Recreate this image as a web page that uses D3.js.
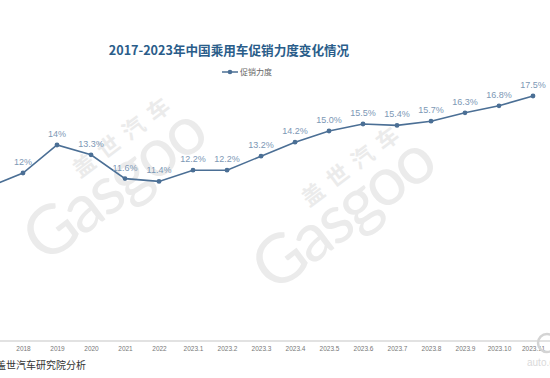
<!DOCTYPE html>
<html>
<head>
<meta charset="utf-8">
<script src="https://cdn.jsdelivr.net/npm/d3@7"></script>
<style>
  body { margin: 0; background: #fff; }
  svg { display: block; font-family: "Noto Sans CJK SC", "Noto Sans", sans-serif; }
</style>
</head>
<body>
<div id="chart"></div>
<script>
// Categories (2017 sits just off the left edge in the reference crop)
const categories = ["2017", "2018", "2019", "2020", "2021", "2022",
  "2023.1", "2023.2", "2023.3", "2023.4", "2023.5", "2023.6",
  "2023.7", "2023.8", "2023.9", "2023.10", "2023.11"];
const values = [11.0, 12, 14, 13.3, 11.6, 11.4, 12.2, 12.2, 13.2, 14.2,
  15.0, 15.5, 15.4, 15.7, 16.3, 16.8, 17.5];
const labels = ["11%", "12%", "14%", "13.3%", "11.6%", "11.4%", "12.2%", "12.2%",
  "13.2%", "14.2%", "15.0%", "15.5%", "15.4%", "15.7%", "16.3%", "16.8%", "17.5%"];
const seriesName = "促销力度";
const title = "2017-2023年中国乘用车促销力度变化情况";
const source = "盖世汽车研究院分析";

const width = 550, height = 378;
const axisY = 341;

const svg = d3.select("#chart").append("svg")
    .attr("width", width)
    .attr("height", height);

// Scales
const x = d3.scalePoint().domain(categories).range([-11, 533]);
const y = d3.scaleLinear().domain([0, 20]).range([axisY, 61]);

// rows; only points whose x lands inside the frame get text
const rows = categories.map((c, i) => ({cat: c, value: values[i], label: labels[i]}));
const shown = rows.filter(d => x(d.cat) > 0);

// Watermarks
function watermark(ox, oy) {
  const g = svg.append("g")
      .attr("transform", `translate(${ox},${oy}) rotate(-37)`)
      .attr("fill", "#ebebeb");
  g.append("text")
      .attr("x", 0).attr("y", 0)
      .attr("font-family", "Lato, 'Open Sans', sans-serif")
      .attr("font-size", 68)
      .attr("letter-spacing", -3)
      .text("Gasgoo");
  g.append("text")
      .attr("x", 80).attr("y", -48)
      .attr("font-size", 22)
      .attr("font-weight", "bold")
      .attr("letter-spacing", 9)
      .text("盖世汽车");
}
watermark(45, 265);
watermark(274, 294);

// Title
svg.append("text")
    .attr("x", 229).attr("y", 55)
    .attr("text-anchor", "middle")
    .attr("font-size", 12.6)
    .attr("font-weight", "bold")
    .attr("fill", "#2a5d8a")
    .text(title);

// Legend
const legend = svg.append("g").attr("transform", "translate(222,72)");
legend.append("line").attr("x1", 0).attr("x2", 16)
    .attr("stroke", "#4b6f95").attr("stroke-width", 1.5);
legend.append("circle").attr("cx", 8).attr("r", 2.3).attr("fill", "#4b6f95");
legend.append("text").attr("x", 18).attr("y", 3)
    .attr("font-size", 8).attr("fill", "#666")
    .text(seriesName);

// X axis
const xAxis = svg.append("g")
    .attr("transform", `translate(0,${axisY})`)
    .call(d3.axisBottom(x).tickSize(0).tickPadding(5)
      .tickValues(shown.map(d => d.cat)));
xAxis.select(".domain").remove();
xAxis.append("line")
    .attr("x1", 0).attr("x2", width)
    .attr("stroke", "#d9d9d9").attr("stroke-width", 1.5);
xAxis.selectAll("text")
    .attr("font-size", 6.5)
    .attr("fill", "#777")
    .attr("font-family", "'Liberation Sans', Arial, sans-serif");

// Line
const line = d3.line()
    .x(d => x(d.cat))
    .y(d => y(d.value));

svg.append("path")
    .datum(rows)
    .attr("fill", "none")
    .attr("stroke", "#4b6f95")
    .attr("stroke-width", 1.6)
    .attr("d", line);

svg.selectAll(".dot")
    .data(rows)
  .enter().append("circle")
    .attr("class", "dot")
    .attr("cx", d => x(d.cat))
    .attr("cy", d => y(d.value))
    .attr("r", 2.4)
    .attr("fill", "#4b6f95");

svg.selectAll(".label")
    .data(shown)
  .enter().append("text")
    .attr("class", "label")
    .attr("x", d => x(d.cat))
    .attr("y", d => y(d.value) - 8)
    .attr("text-anchor", "middle")
    .attr("font-size", 9)
    .attr("fill", "#7d98b5")
    .attr("font-family", "'Liberation Sans', Arial, sans-serif")
    .text(d => d.label);

// Source
svg.append("text")
    .attr("x", -4).attr("y", 369)
    .attr("font-size", 10)
    .attr("fill", "#333")
    .text(source);

// Corner logo
svg.append("circle")
    .attr("cx", 547).attr("cy", 343).attr("r", 9)
    .attr("fill", "none").attr("stroke", "#d4d4d4").attr("stroke-width", 2.5);
svg.append("text")
    .attr("x", 527).attr("y", 366)
    .attr("font-size", 10)
    .attr("fill", "#dadada")
    .attr("font-family", "'Liberation Sans', Arial, sans-serif")
    .text("auto.g");
</script>
</body>
</html>
